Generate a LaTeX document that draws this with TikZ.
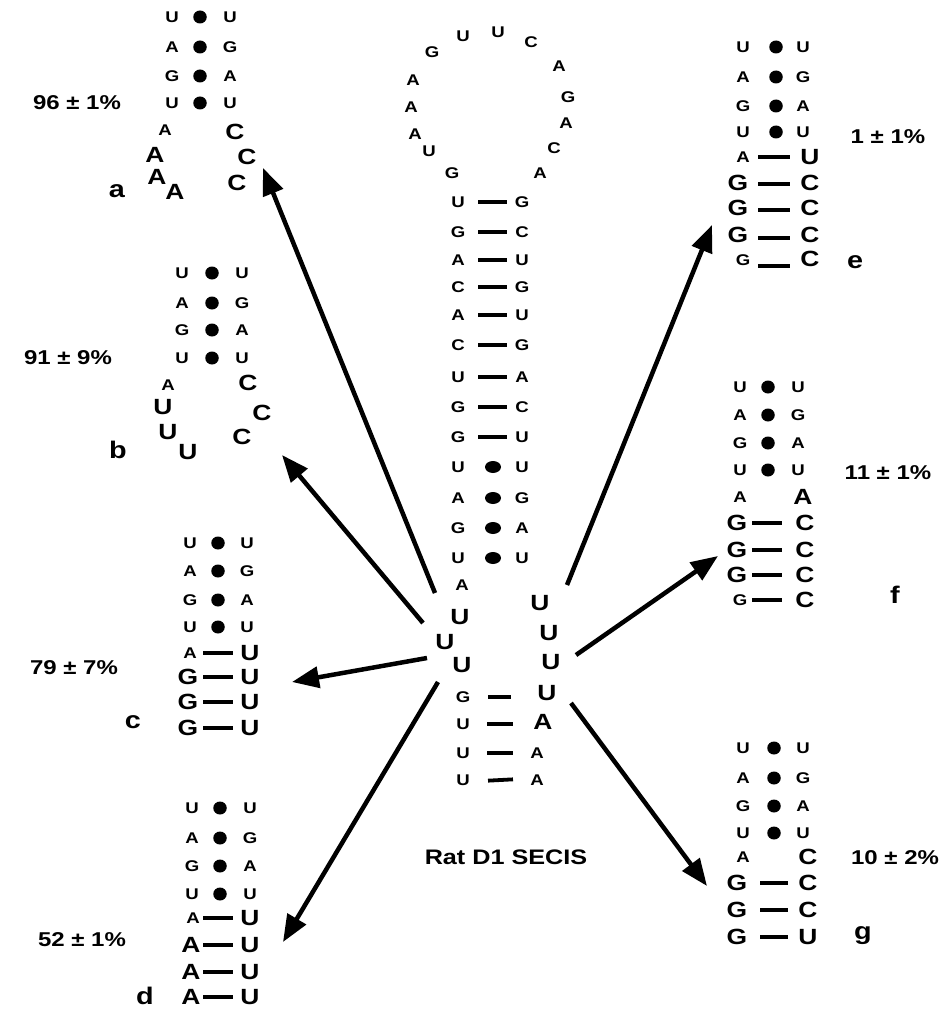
\documentclass[tikz,border=0pt]{standalone}
\usepackage{fontspec}
\setmainfont{Liberation Sans}[FakeStretch=1.2]
\usetikzlibrary{arrows.meta,shapes.geometric}
\tikzset{
 sm/.style={font=\bfseries\fontsize{15.5}{16}\selectfont, inner sep=0pt},
 bg/.style={font=\bfseries\fontsize{22}{22}\selectfont, inner sep=0pt},
 lbl/.style={font=\bfseries\fontsize{24}{24}\selectfont, inner sep=0pt},
 pct/.style={font=\bfseries\fontsize{20}{20}\selectfont, inner sep=0pt},
 ttl/.style={font=\bfseries\fontsize{21}{21}\selectfont, inner sep=0pt},
 dotn/.style={ellipse, fill=black, inner sep=0pt, minimum width=13.5pt, minimum height=13pt},
 bar/.style={rectangle, fill=black, inner sep=0pt, minimum height=3.8pt},
 arr/.style={line width=4.5pt, -{Triangle[length=27pt,width=21pt]}}
}
% name, xl, xdot, xr, y, left, right
\newcommand\pdot[7]{\node[sm] (#1l) at (#2,#5) {#6}; \node[dotn] (#1d) at (#3,#5) {}; \node[sm] (#1r) at (#4,#5) {#7};}
% name, cx, y, width
\newcommand\pbar[4]{\node[bar, minimum width=#4pt] (#1) at (#2,#3) {};}
\begin{document}
\begin{tikzpicture}[x=1pt,y=-1pt]
\useasboundingbox (0,0) rectangle (950,1011);

% ---------------- central hairpin ----------------
% loop
\node[sm] (L1) at (452,173) {G};
\node[sm] (L2) at (429,151) {U};
\node[sm] (L3) at (415,134) {A};
\node[sm] (L4) at (411,107) {A};
\node[sm] (L5) at (413,80) {A};
\node[sm] (L6) at (432,52) {G};
\node[sm] (L7) at (463,36) {U};
\node[sm] (L8) at (498,32) {U};
\node[sm] (L9) at (531,42) {C};
\node[sm] (L10) at (559,66) {A};
\node[sm] (L11) at (568,97) {G};
\node[sm] (L12) at (566,123) {A};
\node[sm] (L13) at (554,148) {C};
\node[sm] (L14) at (540,173) {A};
% stem with bars
\node[sm] (s1l) at (458,202) {U}; \pbar{s1b}{492.5}{202}{29} \node[sm] (s1r) at (522,202) {G};
\node[sm] (s2l) at (458,232) {G}; \pbar{s2b}{492.5}{232}{29} \node[sm] (s2r) at (522,232) {C};
\node[sm] (s3l) at (458,260) {A}; \pbar{s3b}{492.5}{260}{29} \node[sm] (s3r) at (522,260) {U};
\node[sm] (s4l) at (458,287) {C}; \pbar{s4b}{492.5}{287}{29} \node[sm] (s4r) at (522,287) {G};
\node[sm] (s5l) at (458,315) {A}; \pbar{s5b}{492.5}{315}{29} \node[sm] (s5r) at (522,315) {U};
\node[sm] (s6l) at (458,345) {C}; \pbar{s6b}{492.5}{345}{29} \node[sm] (s6r) at (522,345) {G};
\node[sm] (s7l) at (458,377) {U}; \pbar{s7b}{492.5}{377}{29} \node[sm] (s7r) at (522,377) {A};
\node[sm] (s8l) at (458,407) {G}; \pbar{s8b}{492.5}{407}{29} \node[sm] (s8r) at (522,407) {C};
\node[sm] (s9l) at (458,437) {G}; \pbar{s9b}{492.5}{437}{29} \node[sm] (s9r) at (522,437) {U};
% stem with dots
\begin{scope}[dotn/.append style={minimum width=16pt, minimum height=12pt}]
\pdot{s10}{458}{493}{522}{467}{U}{U}
\pdot{s11}{458}{493}{522}{498}{A}{G}
\pdot{s12}{458}{493}{522}{528}{G}{A}
\pdot{s13}{458}{493}{522}{558}{U}{U}
\end{scope}
% internal loop
\node[sm] (i1) at (462,585) {A};
\node[bg] (i2) at (460,617) {U};
\node[bg] (i3) at (445,642) {U};
\node[bg] (i4) at (462,665) {U};
\node[bg] (j1) at (540,603) {U};
\node[bg] (j2) at (549,633) {U};
\node[bg] (j3) at (551,662) {U};
% lower stem
\node[sm] (k1l) at (463,697) {G}; \pbar{k1b}{499.5}{697}{23} \node[bg] (k1r) at (547,693) {U};
\node[sm] (k2l) at (463,724) {U}; \pbar{k2b}{500}{724}{26} \node[bg] (k2r) at (543,722) {A};
\node[sm] (k3l) at (463,753) {U}; \pbar{k3b}{500}{753}{26} \node[sm] (k3r) at (537,753) {A};
\node[sm] (k4l) at (463,780) {U}; \node[bar, minimum width=25pt, rotate=3] (k4b) at (500.5,780) {}; \node[sm] (k4r) at (537,780) {A};

\node[ttl] (title) at (506,857) {Rat D1 SECIS};

% ---------------- variant a ----------------
\pdot{a1}{172}{200}{230}{17}{U}{U}
\pdot{a2}{172}{200}{230}{47}{A}{G}
\pdot{a3}{172}{200}{230}{76}{G}{A}
\pdot{a4}{172}{200}{230}{103}{U}{U}
\node[sm] (a5) at (165,130) {A};
\node[bg] (a6) at (155,155) {A};
\node[bg] (a7) at (157,177) {A};
\node[bg] (a8) at (175,192) {A};
\node[bg] (a9) at (235,132) {C};
\node[bg] (a10) at (247,157) {C};
\node[bg] (a11) at (237,183) {C};
\node[lbl] (la) at (117,191) {a};
\node[pct] (pa) at (77,103) {96 ± 1\%};

% ---------------- variant b ----------------
\pdot{b1}{182}{212}{242}{273}{U}{U}
\pdot{b2}{182}{212}{242}{303}{A}{G}
\pdot{b3}{182}{212}{242}{330}{G}{A}
\pdot{b4}{182}{212}{242}{358}{U}{U}
\node[sm] (b5) at (168,385) {A};
\node[bg] (b6) at (163,407) {U};
\node[bg] (b7) at (168,432) {U};
\node[bg] (b8) at (188,452) {U};
\node[bg] (b9) at (248,383) {C};
\node[bg] (b10) at (262,413) {C};
\node[bg] (b11) at (242,437) {C};
\node[lbl] (lb) at (118,450) {b};
\node[pct] (pb) at (68,358) {91 ± 9\%};

% ---------------- variant c ----------------
\pdot{c1}{190}{218}{247}{543}{U}{U}
\pdot{c2}{190}{218}{247}{571}{A}{G}
\pdot{c3}{190}{218}{247}{600}{G}{A}
\pdot{c4}{190}{218}{247}{627}{U}{U}
\node[sm] (c5l) at (190,653) {A}; \pbar{c5b}{218}{653}{30} \node[bg] (c5r) at (250,653) {U};
\node[bg] (c6l) at (188,677) {G}; \pbar{c6b}{218}{677}{30} \node[bg] (c6r) at (250,677) {U};
\node[bg] (c7l) at (188,702) {G}; \pbar{c7b}{218}{702}{30} \node[bg] (c7r) at (250,702) {U};
\node[bg] (c8l) at (188,728) {G}; \pbar{c8b}{218}{728}{30} \node[bg] (c8r) at (250,728) {U};
\node[lbl] (lc) at (133,722) {c};
\node[pct] (pc) at (74,668) {79 ± 7\%};

% ---------------- variant d ----------------
\pdot{d1}{192}{220}{250}{808}{U}{U}
\pdot{d2}{192}{220}{250}{838}{A}{G}
\pdot{d3}{192}{220}{250}{866}{G}{A}
\pdot{d4}{192}{220}{250}{894}{U}{U}
\node[sm] (d5l) at (193,918) {A}; \pbar{d5b}{218}{918}{30} \node[bg] (d5r) at (250,918) {U};
\node[bg] (d6l) at (191,945) {A}; \pbar{d6b}{218}{945}{30} \node[bg] (d6r) at (250,945) {U};
\node[bg] (d7l) at (191,972) {A}; \pbar{d7b}{218}{972}{30} \node[bg] (d7r) at (250,972) {U};
\node[bg] (d8l) at (191,997) {A}; \pbar{d8b}{218}{997}{30} \node[bg] (d8r) at (250,997) {U};
\node[lbl] (ld) at (145,996) {d};
\node[pct] (pd) at (82,940) {52 ± 1\%};

% ---------------- variant e ----------------
\pdot{e1}{743}{776}{803}{47}{U}{U}
\pdot{e2}{743}{776}{803}{77}{A}{G}
\pdot{e3}{743}{776}{803}{106}{G}{A}
\pdot{e4}{743}{776}{803}{132}{U}{U}
\node[sm] (e5l) at (743,157) {A}; \pbar{e5b}{774}{157}{32} \node[bg] (e5r) at (810,157) {U};
\node[bg] (e6l) at (738,183) {G}; \pbar{e6b}{774}{184}{32} \node[bg] (e6r) at (810,183) {C};
\node[bg] (e7l) at (738,208) {G}; \pbar{e7b}{774}{210}{32} \node[bg] (e7r) at (810,208) {C};
\node[bg] (e8l) at (738,235) {G}; \pbar{e8b}{774}{238}{32} \node[bg] (e8r) at (810,235) {C};
\node[sm] (e9l) at (743,260) {G}; \pbar{e9b}{774}{266}{32} \node[bg] (e9r) at (810,259) {C};
\node[lbl] (le) at (855,262) {e};
\node[pct] (pe) at (888,137) {1 ± 1\%};

% ---------------- variant f ----------------
\pdot{f1}{740}{768}{798}{387}{U}{U}
\pdot{f2}{740}{768}{798}{415}{A}{G}
\pdot{f3}{740}{768}{798}{443}{G}{A}
\pdot{f4}{740}{768}{798}{470}{U}{U}
\node[sm] (f5l) at (740,497) {A}; \node[bg] (f5r) at (803,497) {A};
\node[bg] (f6l) at (737,523) {G}; \pbar{f6b}{767}{523}{30} \node[bg] (f6r) at (805,523) {C};
\node[bg] (f7l) at (737,550) {G}; \pbar{f7b}{767}{550}{30} \node[bg] (f7r) at (805,550) {C};
\node[bg] (f8l) at (737,575) {G}; \pbar{f8b}{767}{575}{30} \node[bg] (f8r) at (805,575) {C};
\node[sm] (f9l) at (740,600) {G}; \pbar{f9b}{767}{600}{30} \node[bg] (f9r) at (805,600) {C};
\node[lbl] (lf) at (895,595) {f};
\node[pct] (pf) at (888,473) {11 ± 1\%};

% ---------------- variant g ----------------
\pdot{g1}{743}{774}{803}{748}{U}{U}
\pdot{g2}{743}{774}{803}{778}{A}{G}
\pdot{g3}{743}{774}{803}{806}{G}{A}
\pdot{g4}{743}{774}{803}{833}{U}{U}
\node[sm] (g5l) at (743,857) {A}; \node[bg] (g5r) at (808,857) {C};
\node[bg] (g6l) at (737,883) {G}; \pbar{g6b}{774}{883}{28} \node[bg] (g6r) at (808,883) {C};
\node[bg] (g7l) at (737,910) {G}; \pbar{g7b}{774}{910}{28} \node[bg] (g7r) at (808,910) {C};
\node[bg] (g8l) at (737,937) {G}; \pbar{g8b}{774}{937}{28} \node[bg] (g8r) at (808,937) {U};
\node[lbl] (lg) at (863,936) {g};
\node[pct] (pg) at (895,858) {10 ± 2\%};

% ---------------- arrows ----------------
\coordinate (ta) at (435,593); \coordinate (ha) at (263,168);
\coordinate (tb) at (423,623); \coordinate (hb) at (282,455);
\coordinate (tc) at (427,658); \coordinate (hc) at (292,682);
\coordinate (td) at (438,682); \coordinate (hd) at (283,942);
\coordinate (te) at (567,585); \coordinate (he) at (712,225);
\coordinate (tf) at (576,655); \coordinate (hf) at (718,556);
\coordinate (tg) at (571,703); \coordinate (hg) at (707,886);
\draw[arr] (ta) -- (ha);
\draw[arr] (tb) -- (hb);
\draw[arr] (tc) -- (hc);
\draw[arr] (td) -- (hd);
\draw[arr] (te) -- (he);
\draw[arr] (tf) -- (hf);
\draw[arr] (tg) -- (hg);
\end{tikzpicture}
\end{document}
